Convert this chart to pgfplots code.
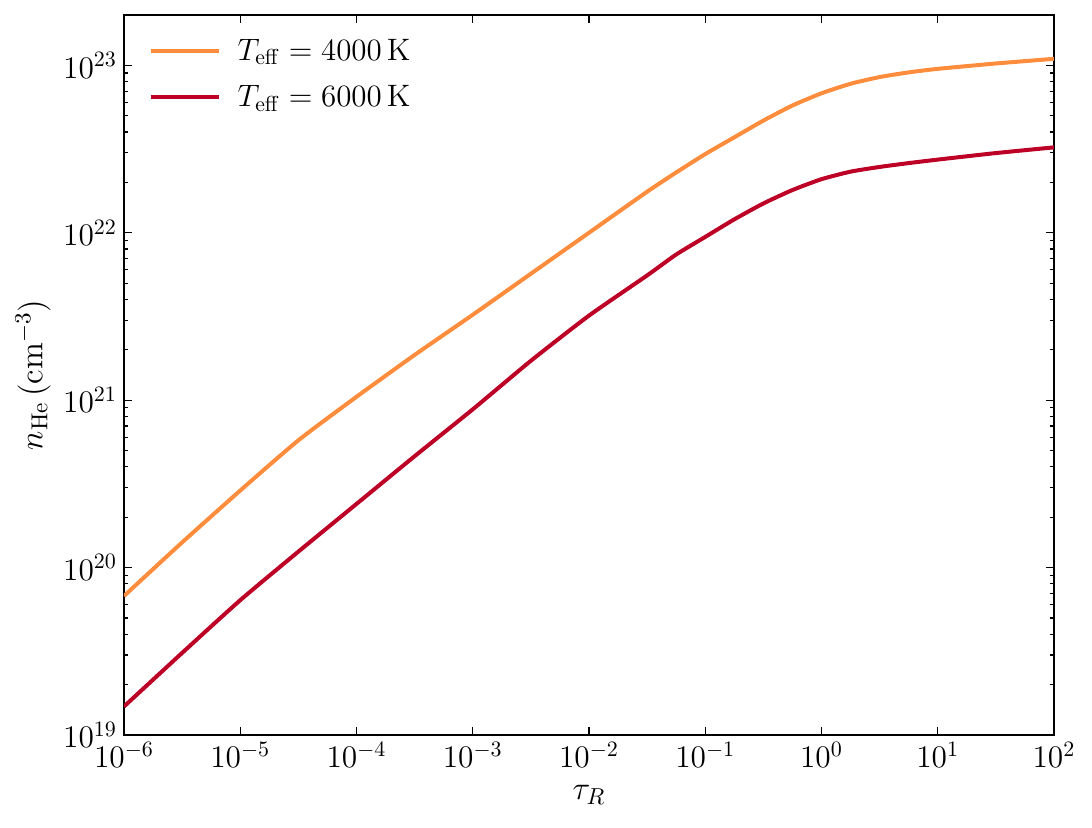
\RequirePackage{fix-cm}
\documentclass[border=0pt]{standalone}
\usepackage{pgfplots}
\pgfplotsset{compat=1.18}
\definecolor{corange}{RGB}{253,141,60}
\definecolor{cred}{RGB}{189,0,38}
\begin{document}
\begin{tikzpicture}
\begin{axis}[
  scale only axis,
  width=465pt, height=360pt,
  xmode=log, ymode=log,
  xmin=1e-6, xmax=1e2, ymin=1e19, ymax=2e23,
  xtick={1e-6,1e-5,1e-4,1e-3,1e-2,1e-1,1e0,1e1,1e2},
  ytick={1e19,1e20,1e21,1e22,1e23},
  xminorticks=false,
  tick align=inside,
  major tick length=4pt, minor tick length=2pt,
  tick style={black, line width=0.6pt},
  axis line style={line width=1pt},
  tick label style={font=\fontsize{15.7}{18}\selectfont},
  label style={font=\fontsize{16.5}{19}\selectfont},
  xlabel={$\tau_R$},
  ylabel={$n_{\mathrm{He}}\,(\mathrm{cm}^{-3})$},
  xlabel style={at={(axis description cs:0.5,-0.0833)}, anchor=center},
  ylabel style={at={(axis description cs:-0.0978,0.5)}, anchor=center},
  legend style={draw=none, fill=none, inner sep=0pt, at={(axis description cs:0.026,0.967)}, anchor=north west,
    font=\fontsize{15.5}{18}\selectfont, row sep=11pt, nodes={inner sep=0pt},
    /tikz/every odd column/.append style={column sep=8.5pt}},
  legend cell align=left,
  legend image code/.code={\draw[#1] (0pt,0pt) -- (34pt,0pt);},
]
\addplot[corange, line width=2pt, smooth, tension=0.35] coordinates {
(1e-6,6.761e19) (3.162e-6,1.413e20) (1e-5,2.884e20) (3.162e-5,5.754e20)
(1e-4,1.047e21) (3.162e-4,1.862e21) (1e-3,3.236e21) (3.162e-3,5.689e21)
(1e-2,1.0e22) (3.162e-2,1.758e22) (5.623e-2,2.291e22) (1e-1,2.951e22)
(0.1778,3.715e22) (0.3162,4.677e22) (0.5623,5.754e22) (1,6.808e22)
(1.778,7.762e22) (3.162,8.511e22) (5.623,9.078e22) (10,9.528e22)
(31.62,1.026e23) (100,1.094e23)
};
\addlegendentry{$T_{\mathrm{eff}} = 4000\,\mathrm{K}$}
\addplot[cred, line width=2pt, smooth, tension=0.35] coordinates {
(1e-6,1.479e19) (3.162e-6,3.090e19) (1e-5,6.383e19) (3.162e-5,1.245e20)
(1e-4,2.399e20) (3.162e-4,4.624e20) (1e-3,8.810e20) (3.162e-3,1.718e21)
(1e-2,3.199e21) (3.162e-2,5.559e21) (5.623e-2,7.413e21) (1e-1,9.441e21)
(0.1778,1.202e22) (0.3162,1.496e22) (0.5623,1.799e22) (1,2.089e22)
(1.778,2.317e22) (3.162,2.472e22) (5.623,2.606e22) (10,2.735e22)
(31.62,2.992e22) (100,3.236e22)
};
\addlegendentry{$T_{\mathrm{eff}} = 6000\,\mathrm{K}$}
\end{axis}
\pgfresetboundingbox
\path[use as bounding box] ([shift={(-62pt,-46.5pt)}]current axis.south west) rectangle ([shift={(484pt,367.5pt)}]current axis.south west);
\end{tikzpicture}
\end{document}
